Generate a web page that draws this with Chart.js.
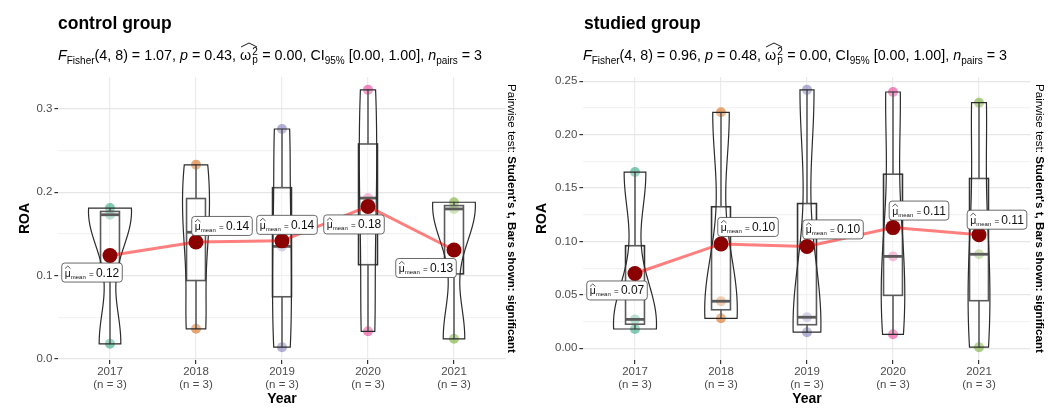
<!DOCTYPE html>
<html>
<head>
<meta charset="utf-8">
<script src="https://cdn.jsdelivr.net/npm/chart.js@4.4.1/dist/chart.umd.min.js"></script>
<style>
  body { margin: 0; background: #fff; font-family: "Liberation Sans", Arial, sans-serif; }
  #wrap { position: relative; width: 1056px; height: 408px; overflow: hidden; }
  .panel { position: absolute; top: 0; width: 528px; height: 408px; }
  .panel canvas { position: absolute; left: 0; top: 0; }
  .ttl { position: absolute; top: 13px; font-weight: bold; font-size: 17.5px; line-height: 20px; color: #000; white-space: nowrap; }
  .sub { position: absolute; top: 46px; font-size: 14.3px; line-height: 18px; color: #000; white-space: nowrap; }
  .sub sub { font-size: 0.7em; vertical-align: -0.35em; line-height: 0; }
  .om { position: relative; display: inline-block; }
  .om .ss { position: relative; display: inline-block; width: 0.5em; height: 1em; }
  .om .ss span { position: absolute; left: 1px; font-size: 0.7em; line-height: 1; }
  .om .s2 { top: 0.5px; }
  .om .sp { top: 9px; }
  .om svg { position: absolute; left: 0; top: -4px; }
  .cap { position: absolute; top: 77px; height: 283px; left: 505px; writing-mode: vertical-rl; text-align: center;
         font-size: 11.6px; line-height: 14px; color: #000; white-space: nowrap; }
</style>
</head>
<body>
<div id="wrap">
  <div class="panel" style="left:0">
    <canvas id="controlChart" width="528" height="408"></canvas>
    <div class="ttl" style="left:58px">control group</div>
    <div class="sub" style="left:58px"><i>F</i><sub>Fisher</sub>(4, 8) = 1.07, <i>p</i> = 0.43, <span class="om">ω<span class="ss"><span class="s2">2</span><span class="sp">p</span></span><svg width="18" height="6"><polyline points="1,5 9,1 17,5" fill="none" stroke="#000" stroke-width="0.9"/></svg></span> = 0.00, CI<sub>95%</sub> [0.00, 1.00], <i>n</i><sub>pairs</sub> = 3</div>
    <div class="cap">Pairwise test: <b>Student's t, Bars shown: significant</b></div>
  </div>
  <div class="panel" style="left:528px">
    <canvas id="studiedChart" width="528" height="408"></canvas>
    <div class="ttl" style="left:56px">studied group</div>
    <div class="sub" style="left:55px"><i>F</i><sub>Fisher</sub>(4, 8) = 0.96, <i>p</i> = 0.48, <span class="om">ω<span class="ss"><span class="s2">2</span><span class="sp">p</span></span><svg width="18" height="6"><polyline points="1,5 9,1 17,5" fill="none" stroke="#000" stroke-width="0.9"/></svg></span> = 0.00, CI<sub>95%</sub> [0.00, 1.00], <i>n</i><sub>pairs</sub> = 3</div>
    <div class="cap">Pairwise test: <b>Student's t, Bars shown: significant</b></div>
  </div>
</div>
<script>
const years = ["2017", "2018", "2019", "2020", "2021"];
const yearN = ["(n = 3)", "(n = 3)", "(n = 3)", "(n = 3)", "(n = 3)"];

// ROA values per year (3 per year)
const controlRoa = [
  [0.018, 0.173, 0.181],
  [0.036, 0.152, 0.233],
  [0.014, 0.135, 0.276],
  [0.033, 0.193, 0.323],
  [0.024, 0.180, 0.188],
];
const studiedRoa = [
  [0.018, 0.027, 0.165],
  [0.028, 0.044, 0.221],
  [0.015, 0.029, 0.242],
  [0.013, 0.086, 0.240],
  [0.001, 0.088, 0.230],
];

const controlTicks = [0, 0.1, 0.2, 0.3];
const studiedTicks = [0, 0.05, 0.1, 0.15, 0.2, 0.25];

const pointColors = [
  "rgba(27,158,119,0.55)",
  "rgba(217,95,2,0.55)",
  "rgba(117,112,179,0.55)",
  "rgba(231,41,138,0.55)",
  "rgba(102,166,30,0.55)",
];

// label offsets from the mean point, in px
const controlLabelPos = [[-18, 17], [26, -16], [5, -16], [-14, 18], [-28, 18]];
const studiedLabelPos = [[-18, 17], [27, -17], [26, -17], [26, -17], [18, -15]];

const FONT = '"Liberation Sans", Arial, sans-serif';

// stats helpers
function q7(s, p) {
  const h = (s.length - 1) * p, lo = Math.floor(h), hi = Math.min(lo + 1, s.length - 1);
  return s[lo] + (h - lo) * (s[hi] - s[lo]);
}
function boxStats(v) {
  const s = [...v].sort((a, b) => a - b);
  const q1 = q7(s, 0.25), med = q7(s, 0.5), q3 = q7(s, 0.75), iqr = q3 - q1;
  const lo = Math.min(...s.filter((x) => x >= q1 - 1.5 * iqr));
  const hi = Math.max(...s.filter((x) => x <= q3 + 1.5 * iqr));
  return { s, q1, med, q3, iqr, lo, hi };
}
function bwNrd0(st) {
  const n = st.s.length;
  const m = st.s.reduce((a, b) => a + b, 0) / n;
  const sd = Math.sqrt(st.s.reduce((a, x) => a + (x - m) ** 2, 0) / (n - 1));
  let lo = Math.min(sd, st.iqr / 1.34);
  if (!lo) lo = sd || 1;
  return 0.9 * lo * Math.pow(n, -0.2);
}
function kde(s, bw, y) {
  let d = 0;
  s.forEach((x) => {
    const z = (y - x) / bw;
    d += Math.exp(-0.5 * z * z);
  });
  return d / (s.length * bw * Math.sqrt(2 * Math.PI));
}

function drawMeanLabel(ctx, cx, cy, value) {
  const txt = value.toFixed(2);
  const fMu = "10.5px " + FONT, fSub = "6px " + FONT, fEq = "8px " + FONT, fNum = "12px " + FONT;
  ctx.font = fMu; const wMu = ctx.measureText("μ").width;
  ctx.font = fSub; const wSub = ctx.measureText("mean").width;
  ctx.font = fEq; const wEq = ctx.measureText(" = ").width;
  ctx.font = fNum; const wNum = ctx.measureText(txt).width;
  const pad = 3, w = wMu + wSub + 1 + wEq + wNum + pad * 2, h = 19;
  const bx = cx - w / 2, by = cy - h / 2;
  ctx.beginPath();
  ctx.roundRect(bx, by, w, h, 3);
  ctx.fillStyle = "#fff";
  ctx.fill();
  ctx.strokeStyle = "#444";
  ctx.lineWidth = 0.8;
  ctx.stroke();

  ctx.fillStyle = "#111";
  ctx.textAlign = "left";
  ctx.textBaseline = "alphabetic";
  let tx = bx + pad;
  const base = cy + 4;
  ctx.font = fMu;
  ctx.fillText("μ", tx, base);
  ctx.beginPath();
  ctx.moveTo(tx + 0.3, base - 8);
  ctx.lineTo(tx + wMu / 2, base - 10.5);
  ctx.lineTo(tx + wMu - 0.3, base - 8);
  ctx.strokeStyle = "#111";
  ctx.lineWidth = 0.7;
  ctx.stroke();
  tx += wMu;
  ctx.font = fSub;
  ctx.fillText("mean", tx, base + 2);
  tx += wSub + 1;
  ctx.font = fEq;
  ctx.fillText(" = ", tx, base);
  tx += wEq;
  ctx.font = fNum;
  ctx.fillText(txt, tx, base);
}

function boxViolinPlugin(groups, labelPos) {
  const stats = groups.map(boxStats);
  const dens = stats.map((st) => {
    const bw = bwNrd0(st);
    const a = st.s[0], b = st.s[st.s.length - 1];
    const pts = [];
    for (let k = 0; k <= 160; k++) {
      const y = a + ((b - a) * k) / 160;
      pts.push([y, kde(st.s, bw, y)]);
    }
    return pts;
  });
  const dMax = Math.max(...dens.flat().map((p) => p[1]));
  const violinHalf = 0.25, boxHalf = 0.11;

  return {
    id: "boxViolin",
    beforeDatasetDraw(chart, args) {
      if (args.index !== 0) return;
      const { ctx, scales: { x, y } } = chart;
      ctx.save();
      stats.forEach((st, i) => {
        const c = x.getPixelForValue(i);
        const l = x.getPixelForValue(i - boxHalf), r = x.getPixelForValue(i + boxHalf);
        // whiskers
        ctx.strokeStyle = "#333";
        ctx.lineWidth = 1.6;
        ctx.beginPath();
        ctx.moveTo(c, y.getPixelForValue(st.q3));
        ctx.lineTo(c, y.getPixelForValue(st.hi));
        ctx.moveTo(c, y.getPixelForValue(st.q1));
        ctx.lineTo(c, y.getPixelForValue(st.lo));
        ctx.stroke();
        // box
        const t = y.getPixelForValue(st.q3), btm = y.getPixelForValue(st.q1);
        ctx.fillStyle = "rgba(255,255,255,0.3)";
        ctx.fillRect(l, t, r - l, btm - t);
        ctx.strokeRect(l, t, r - l, btm - t);
        // median
        ctx.lineWidth = 2.8;
        ctx.beginPath();
        ctx.moveTo(l, y.getPixelForValue(st.med));
        ctx.lineTo(r, y.getPixelForValue(st.med));
        ctx.stroke();

        // violin
        const d = dens[i];
        ctx.beginPath();
        d.forEach(([v, dv], k) => {
          const px = x.getPixelForValue(i + (dv / dMax) * violinHalf), py = y.getPixelForValue(v);
          k ? ctx.lineTo(px, py) : ctx.moveTo(px, py);
        });
        for (let k = d.length - 1; k >= 0; k--) {
          const [v, dv] = d[k];
          ctx.lineTo(x.getPixelForValue(i - (dv / dMax) * violinHalf), y.getPixelForValue(v));
        }
        ctx.closePath();
        ctx.fillStyle = "rgba(255,255,255,0.2)";
        ctx.fill();
        ctx.strokeStyle = "#2b2b2b";
        ctx.lineWidth = 1.2;
        ctx.stroke();
      });
      ctx.restore();
    },
    afterDatasetsDraw(chart) {
      const { ctx } = chart;
      const meta = chart.getDatasetMeta(0);
      ctx.save();
      meta.data.forEach((pt, i) => {
        drawMeanLabel(ctx, pt.x + labelPos[i][0], pt.y + labelPos[i][1], chart.data.datasets[0].data[i].y);
      });
      ctx.restore();
    },
  };
}

function makeChart(id, groups, majors, decimals, areaLeft, areaRight, roaPad, labelPos) {
  const step = majors[1] - majors[0];
  const all = groups.flat();
  const lo = Math.min(...all), hi = Math.max(...all), ex = (hi - lo) * 0.05;
  const yMin = lo - ex, yMax = hi + ex;
  const isMajor = (v) => Math.abs(v / step - Math.round(v / step)) < 1e-6;
  const yTickVals = [];
  for (let k = 0; majors[0] + (k * step) / 2 <= yMax + 1e-9; k++) yTickVals.push(majors[0] + (k * step) / 2);

  const means = groups.map((g) => g.reduce((a, b) => a + b, 0) / g.length);
  const points = [], colors = [];
  groups.forEach((g, i) => g.forEach((v) => { points.push({ x: i, y: v }); colors.push(pointColors[i]); }));

  return new Chart(document.getElementById(id), {
    type: "scatter",
    data: {
      datasets: [
        {
          type: "line",
          data: means.map((m, i) => ({ x: i, y: m })),
          borderColor: "rgba(255,0,0,0.5)",
          borderWidth: 3,
          pointRadius: 7.5,
          pointBackgroundColor: "#8B0000",
          pointBorderWidth: 0,
          tension: 0,
        },
        {
          data: points,
          pointRadius: 5,
          pointBackgroundColor: colors,
          pointBorderWidth: 0,
        },
      ],
    },
    options: {
      responsive: false,
      animation: false,
      events: [],
      layout: { padding: { top: 77, right: 528 - areaRight, left: 0, bottom: 0 } },
      plugins: { legend: { display: false }, tooltip: { enabled: false } },
      scales: {
        x: {
          type: "linear",
          min: -0.6,
          max: 4.6,
          afterBuildTicks: (axis) => { axis.ticks = years.map((_, i) => ({ value: i })); },
          afterFit: (axis) => { axis.height = 48; },
          border: { display: false },
          grid: { color: "#EBEBEB", lineWidth: 1.2, tickColor: "#333", tickLength: 4 },
          ticks: {
            padding: 2,
            color: "#4D4D4D",
            font: { family: FONT, size: 11.5, lineHeight: 1.1 },
            callback: (v) => [years[v], yearN[v]],
          },
          title: { display: true, text: "Year", color: "#000", font: { family: FONT, size: 14, weight: "bold" }, padding: { top: 0, bottom: 0 } },
        },
        y: {
          min: yMin,
          max: yMax,
          afterBuildTicks: (axis) => { axis.ticks = yTickVals.map((v) => ({ value: v })); },
          afterFit: (axis) => { axis.width = areaLeft; },
          border: { display: false },
          grid: {
            color: (c) => (isMajor(c.tick.value) ? "#E6E6E6" : "#F3F3F3"),
            lineWidth: 1.2,
            tickColor: (c) => (isMajor(c.tick.value) ? "#333" : "rgba(0,0,0,0)"),
            tickLength: 4,
          },
          ticks: {
            padding: 2,
            color: "#4D4D4D",
            font: { family: FONT, size: 11.5 },
            callback: (v) => (isMajor(v) ? v.toFixed(decimals) : ""),
          },
          title: { display: true, text: "ROA", color: "#000", font: { family: FONT, size: 14, weight: "bold" }, padding: { top: roaPad, bottom: 0 } },
        },
      },
    },
    plugins: [boxViolinPlugin(groups, labelPos)],
  });
}

makeChart("controlChart", controlRoa, controlTicks, 1, 58.4, 505.6, 16.6, controlLabelPos);
makeChart("studiedChart", studiedRoa, studiedTicks, 2, 55.4, 502.6, 6.1, studiedLabelPos);
</script>
</body>
</html>
